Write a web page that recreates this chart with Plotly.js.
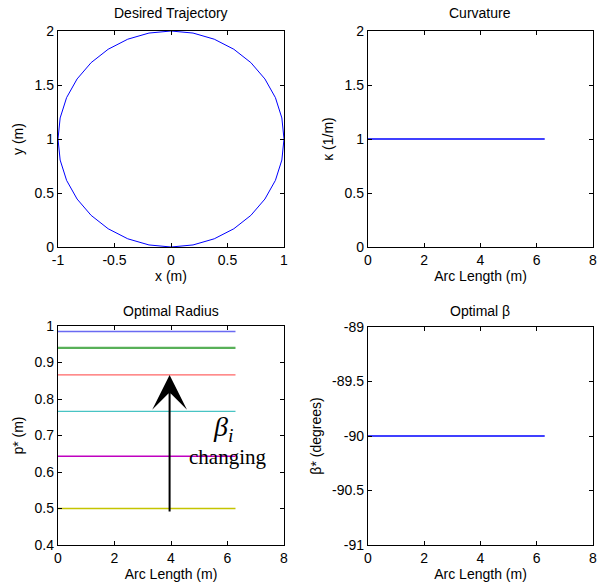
<!DOCTYPE html>
<html>
<head>
<meta charset="utf-8">
<script src="https://cdn.plot.ly/plotly-3.0.1.min.js"></script>
<style>html,body{margin:0;padding:0;background:#fff;}#chart{width:597px;height:586px;}</style>
</head>
<body>
<div id="chart"></div>
<script>
// Desired trajectory (circle of radius 1 centred at (0,1))
const trajX = [0, 0.195, 0.383, 0.556, 0.707, 0.831, 0.924, 0.981, 1, 0.981, 0.924, 0.831, 0.707, 0.556, 0.383, 0.195, 0,
  -0.195, -0.383, -0.556, -0.707, -0.831, -0.924, -0.981, -1, -0.981, -0.924, -0.831, -0.707, -0.556, -0.383, -0.195, 0];
const trajY = [0, 0.019, 0.076, 0.169, 0.293, 0.444, 0.617, 0.805, 1, 1.195, 1.383, 1.556, 1.707, 1.831, 1.924, 1.981, 2,
  1.981, 1.924, 1.831, 1.707, 1.556, 1.383, 1.195, 1, 0.805, 0.617, 0.444, 0.293, 0.169, 0.076, 0.019, 0];

// Arc length endpoints (m)
const arcLength = [0, 6.283];
// Curvature (1/m)
const curvature = [1, 1];
// Optimal radius for each beta_i (m)
const radiusLevels = [0.985, 0.940, 0.866, 0.766, 0.643, 0.500];
const radiusColors = ['#6a6af2', '#58b058', '#ff6464', '#48c4c4', '#c000c0', '#c4c400'];
const radiusWidths = [1.3, 2.2, 1.3, 1.3, 1.6, 1.6];
// Optimal beta (degrees)
const optimalBeta = [-90, -90];

const ticksX1 = [-1, -0.5, 0, 0.5, 1];
const ticksX1Text = ['-1', '-0.5', '0', '0.5', '1'];
const ticksY4 = [-91, -90.5, -90, -89.5, -89];
const ticksY4Text = ['-91', '-90.5', '-90', '-89.5', '-89'];

const W = 597, H = 586;
const px = (a, b) => [a / W, b / W];
const py = (top, bottom) => [1 - bottom / H, 1 - top / H];

const traces = [];
traces.push({x: trajX, y: trajY, xaxis: 'x', yaxis: 'y', mode: 'lines', line: {color: '#0000ff', width: 1}, hoverinfo: 'skip'});
traces.push({x: arcLength, y: curvature, xaxis: 'x2', yaxis: 'y2', mode: 'lines', line: {color: '#0000ff', width: 1.3}});
radiusLevels.forEach((r, i) => {
  traces.push({x: arcLength, y: [r, r], xaxis: 'x3', yaxis: 'y3', mode: 'lines', line: {color: radiusColors[i], width: radiusWidths[i]}});
});
traces.push({x: arcLength, y: optimalBeta, xaxis: 'x4', yaxis: 'y4', mode: 'lines', line: {color: '#0000ff', width: 1.3}});

const font = {family: 'Liberation Sans, Arial, sans-serif', size: 14, color: '#000'};
function ax(extra) {
  return Object.assign({
    showline: true, mirror: 'ticks', linecolor: '#000', linewidth: 1.2,
    ticks: 'inside', ticklen: 4, tickwidth: 1, tickcolor: '#000',
    showgrid: false, zeroline: false, fixedrange: true,
    ticklabeloverflow: 'allow',
    tickfont: font
  }, extra);
}

const layout = {
  width: W, height: H, showlegend: false,
  paper_bgcolor: '#fff', plot_bgcolor: '#fff',
  margin: {l: 0, r: 0, t: 0, b: 0},
  font: font,
  xaxis: ax({domain: px(58, 284), range: [-1, 1], tickvals: ticksX1, ticktext: ticksX1Text, anchor: 'y',
    title: {text: 'x (m)', font: font, standoff: 2}}),
  yaxis: ax({domain: py(31, 247), range: [0, 2], dtick: 0.5, tick0: 0, anchor: 'x',
    title: {text: 'y (m)', font: font, standoff: 7}}),
  xaxis2: ax({domain: px(368, 593), range: [0, 8], dtick: 2, tick0: 0, anchor: 'y2',
    title: {text: 'Arc Length (m)', font: font, standoff: 2}}),
  yaxis2: ax({domain: py(31, 247), range: [0, 2], dtick: 0.5, tick0: 0, anchor: 'x2',
    title: {text: 'κ (1/m)', font: font, standoff: 7}}),
  xaxis3: ax({domain: px(58, 284), range: [0, 8], dtick: 2, tick0: 0, anchor: 'y3',
    title: {text: 'Arc Length (m)', font: font, standoff: 2}}),
  yaxis3: ax({domain: py(326, 545), range: [0.4, 1], dtick: 0.1, tick0: 0.4, anchor: 'x3',
    title: {text: 'p* (m)', font: font, standoff: 7}}),
  xaxis4: ax({domain: px(368, 593), range: [0, 8], dtick: 2, tick0: 0, anchor: 'y4',
    title: {text: 'Arc Length (m)', font: font, standoff: 2}}),
  yaxis4: ax({domain: py(327, 545), range: [-91, -89], tickvals: ticksY4, ticktext: ticksY4Text, anchor: 'x4',
    title: {text: 'β* (degrees)', font: font, standoff: 7}}),
  annotations: [
    {text: 'Desired Trajectory', xref: 'paper', yref: 'paper', x: 171 / W, y: 1 - 13 / H, xanchor: 'center', yanchor: 'middle', showarrow: false, font: font},
    {text: 'Curvature', xref: 'paper', yref: 'paper', x: 480 / W, y: 1 - 13 / H, xanchor: 'center', yanchor: 'middle', showarrow: false, font: font},
    {text: 'Optimal Radius', xref: 'paper', yref: 'paper', x: 171 / W, y: 1 - 311 / H, xanchor: 'center', yanchor: 'middle', showarrow: false, font: font},
    {text: 'Optimal β', xref: 'paper', yref: 'paper', x: 480 / W, y: 1 - 311 / H, xanchor: 'center', yanchor: 'middle', showarrow: false, font: font},
    {xref: 'x3', yref: 'y3', axref: 'x3', ayref: 'y3', x: 3.95, y: 0.866, ax: 3.95, ay: 0.488,
      showarrow: true, arrowhead: 3, arrowsize: 2.9, arrowwidth: 2, arrowcolor: '#000', text: ''},
    {xref: 'x3', yref: 'y3', x: 5.85, y: 0.72, text: '<i>β<sub>i</sub></i>', showarrow: false, xanchor: 'center', yanchor: 'middle',
      font: {family: 'Liberation Serif, Times New Roman, serif', size: 28, color: '#000'}},
    {xref: 'x3', yref: 'y3', x: 6.0, y: 0.64, text: 'changing', showarrow: false, xanchor: 'center', yanchor: 'middle',
      font: {family: 'Liberation Serif, Times New Roman, serif', size: 21, color: '#000'}}
  ]
};

Plotly.newPlot('chart', traces, layout, {displayModeBar: false, staticPlot: true});
</script>
</body>
</html>
